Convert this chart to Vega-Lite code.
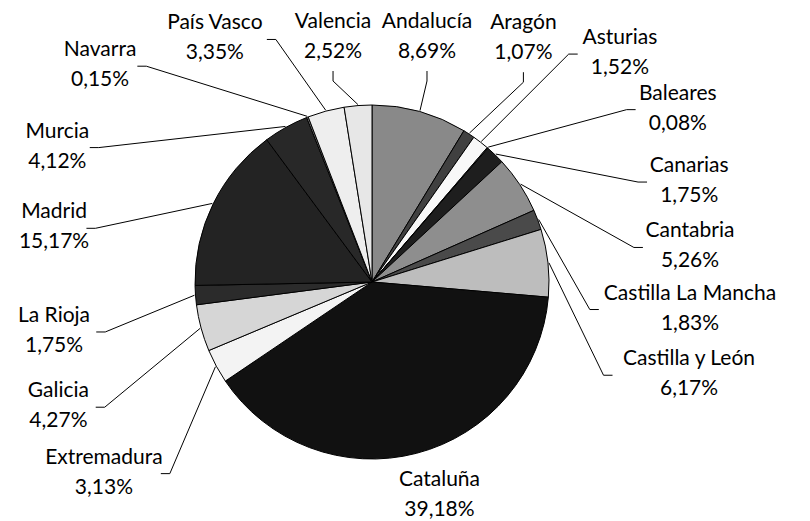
{
  "$schema": "https://vega.github.io/schema/vega-lite/v6.json",
  "width": 810,
  "height": 521,
  "autosize": "none",
  "padding": 0,
  "background": "white",
  "config": {"view": {"stroke": null}},
  "data": {
    "values": [
      {"region": "Andalucía", "pct": 8.69},
      {"region": "Aragón", "pct": 1.07},
      {"region": "Asturias", "pct": 1.52},
      {"region": "Baleares", "pct": 0.08},
      {"region": "Canarias", "pct": 1.75},
      {"region": "Cantabria", "pct": 5.26},
      {"region": "Castilla La Mancha", "pct": 1.83},
      {"region": "Castilla y León", "pct": 6.17},
      {"region": "Cataluña", "pct": 39.18},
      {"region": "Extremadura", "pct": 3.13},
      {"region": "Galicia", "pct": 4.27},
      {"region": "La Rioja", "pct": 1.75},
      {"region": "Madrid", "pct": 15.17},
      {"region": "Murcia", "pct": 4.12},
      {"region": "Navarra", "pct": 0.15},
      {"region": "País Vasco", "pct": 3.35},
      {"region": "Valencia", "pct": 2.52}
    ]
  },
  "transform": [
    {"joinaggregate": [{"op": "sum", "field": "pct", "as": "total"}]},
    {"window": [{"op": "sum", "field": "pct", "as": "cum"}, {"op": "row_number", "as": "idx"}], "frame": [null, 0]},
    {"calculate": "(datum.cum - datum.pct) / datum.total * 360", "as": "a0"},
    {"calculate": "datum.cum / datum.total * 360", "as": "a1"},
    {"calculate": "(datum.a0 + datum.a1) / 2", "as": "mid"},
    {"calculate": "datum.mid < 180 ? 'R' : 'L'", "as": "side"},
    {"calculate": "datum.side == 'R' ? 15 : 17", "as": "gap"},
    {"calculate": "datum.mid - 10 * sin(datum.mid * PI / 90)", "as": "u"},
    {"calculate": "datum.u - datum.idx * datum.gap", "as": "k"},
    {"window": [{"op": "max", "field": "k", "as": "kmax"}], "groupby": ["side"], "frame": [null, 0], "sort": [{"field": "idx", "order": "ascending"}]},
    {"window": [{"op": "min", "field": "k", "as": "kmin"}], "groupby": ["side"], "frame": [0, null], "sort": [{"field": "idx", "order": "ascending"}]},
    {"calculate": "(datum.side == 'R' ? datum.kmax : datum.kmin) + datum.idx * datum.gap", "as": "uL"},
    {"calculate": "datum.uL + 10 * sin(datum.uL * PI / 90)", "as": "t0"},
    {"calculate": "datum.t0 - (datum.t0 - 10 * sin(datum.t0 * PI / 90) - datum.uL) / (1 - 0.349 * cos(datum.t0 * PI / 90))", "as": "t1"},
    {"calculate": "(datum.t1 - (datum.side == 'R' ? 3 : 4.5)) * PI / 180", "as": "th"},
    {"calculate": "pow(pow(abs(sin(datum.th)) / 318, 5) + pow(abs(cos(datum.th)) / (cos(datum.th) > 0 ? 245 : 213), 5), -0.2)", "as": "r"},
    {"calculate": "datum.r * sin(datum.th)", "as": "lx"},
    {"calculate": "-datum.r * cos(datum.th)", "as": "ly"},
    {"calculate": "178 * sin(datum.mid * PI / 180)", "as": "ex"},
    {"calculate": "-178 * cos(datum.mid * PI / 180)", "as": "ey"},
    {"calculate": "replace(format(datum.pct, '.2f'), '.', ',') + '%'", "as": "pctText"},
    {"calculate": "datum.region + '\\n' + datum.pctText", "as": "label"},
    {"calculate": "max(length(datum.region), length(datum.pctText)) * 4.9", "as": "halfW"},
    {"calculate": "datum.ly < datum.ey && abs(datum.lx - datum.ex) < abs(datum.ly - datum.ey)", "as": "vert"},
    {"calculate": "datum.ly < datum.ey ? 1 : -1", "as": "vdir"},
    {"calculate": "datum.lx > datum.ex ? 1 : -1", "as": "hdir"},
    {"calculate": "datum.vert ? datum.lx : datum.lx - datum.hdir * (datum.halfW + 3)", "as": "ax"},
    {"calculate": "datum.vert ? datum.ly + datum.vdir * 34 : datum.ly + 1", "as": "ay"},
    {"calculate": "datum.vert ? datum.ax : datum.ax - datum.hdir * 9", "as": "bx"},
    {"calculate": "datum.vert ? datum.ay + datum.vdir * 10 : datum.ay", "as": "by"},
    {"calculate": "sqrt(pow(max(0, abs(datum.ex - datum.lx) - datum.halfW), 2) + pow(max(0, abs(datum.ey - datum.ly) - 30), 2)) > 25", "as": "show"}
  ],
  "layer": [
    {
      "mark": {"type": "arc", "outerRadius": 177, "stroke": "#000000", "strokeWidth": 1},
      "encoding": {
        "x": {"datum": 0, "type": "quantitative", "scale": {"domain": [-372, 438], "nice": false, "zero": false}, "axis": null},
        "y": {"datum": 0, "type": "quantitative", "scale": {"domain": [-282, 239], "reverse": true, "nice": false, "zero": false}, "axis": null},
        "theta": {"field": "a0", "type": "quantitative", "stack": null, "scale": {"domain": [0, 360], "range": [0, 6.283185307179586]}},
        "theta2": {"field": "a1"},
        "color": {
          "field": "region",
          "type": "nominal",
          "legend": null,
          "scale": {
            "domain": ["Andalucía", "Aragón", "Asturias", "Baleares", "Canarias", "Cantabria", "Castilla La Mancha", "Castilla y León", "Cataluña", "Extremadura", "Galicia", "La Rioja", "Madrid", "Murcia", "Navarra", "País Vasco", "Valencia"],
            "range": ["#898989", "#404040", "#f8f8f8", "#a6a6a6", "#1e1e1e", "#8e8e8e", "#4a4a4a", "#bdbdbd", "#111111", "#f3f3f3", "#d6d6d6", "#2b2b2b", "#232323", "#282828", "#8a8a8a", "#eeeeee", "#e7e7e7"]
          }
        }
      }
    },
    {
      "transform": [{"filter": "datum.show"}],
      "mark": {"type": "rule", "stroke": "#000000", "strokeWidth": 1},
      "encoding": {
        "x": {"field": "ex", "type": "quantitative", "scale": {"domain": [-372, 438], "nice": false, "zero": false}, "axis": null},
        "y": {"field": "ey", "type": "quantitative", "scale": {"domain": [-282, 239], "reverse": true, "nice": false, "zero": false}, "axis": null},
        "x2": {"field": "bx"},
        "y2": {"field": "by"}
      }
    },
    {
      "transform": [{"filter": "datum.show"}],
      "mark": {"type": "rule", "stroke": "#000000", "strokeWidth": 1},
      "encoding": {
        "x": {"field": "bx", "type": "quantitative", "scale": {"domain": [-372, 438], "nice": false, "zero": false}, "axis": null},
        "y": {"field": "by", "type": "quantitative", "scale": {"domain": [-282, 239], "reverse": true, "nice": false, "zero": false}, "axis": null},
        "x2": {"field": "ax"},
        "y2": {"field": "ay"}
      }
    },
    {
      "mark": {"type": "text", "font": "Lato", "fontSize": 21, "lineHeight": 30, "lineBreak": "\n", "align": "center", "baseline": "middle", "dy": -15, "fill": "#000000"},
      "encoding": {
        "x": {"field": "lx", "type": "quantitative", "scale": {"domain": [-372, 438], "nice": false, "zero": false}, "axis": null},
        "y": {"field": "ly", "type": "quantitative", "scale": {"domain": [-282, 239], "reverse": true, "nice": false, "zero": false}, "axis": null},
        "text": {"field": "label"}
      }
    }
  ]
}
